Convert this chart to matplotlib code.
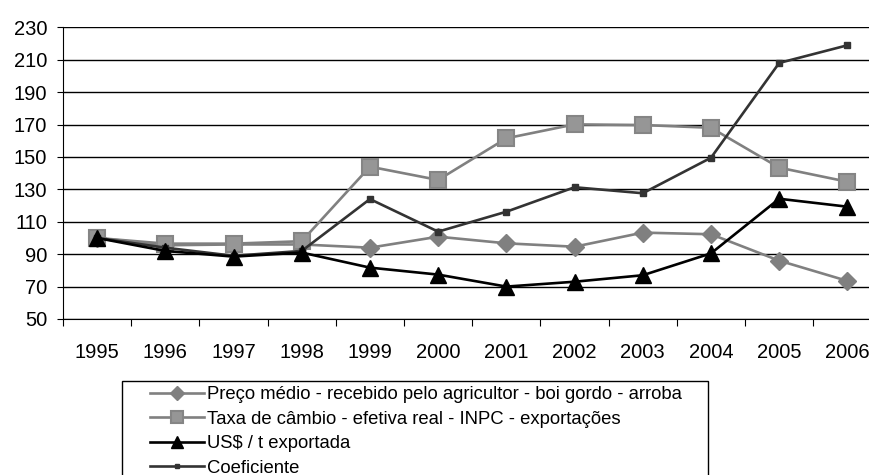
import matplotlib
matplotlib.use("Agg")
import matplotlib.pyplot as plt
from matplotlib.patches import Rectangle

plt.rcParams['font.family'] = ['Liberation Sans', 'DejaVu Sans']

anos = ['1995', '1996', '1997', '1998', '1999', '2000', '2001', '2002', '2003', '2004', '2005', '2006']
preco = [100, 95.5, 96, 96, 94, 100.8, 96.7, 94.6, 103.3, 102.3, 86, 73.5]
taxa = [100, 96.5, 96.5, 98, 144, 135.8, 161.5, 170.1, 169.7, 168, 143.4, 134.7]
usd = [100, 92, 88.5, 91, 81.7, 77.4, 70, 73, 77, 90.5, 124.2, 119.3]
coef = [100, 94, 89, 92, 124, 103.9, 116.2, 131.3, 127.6, 149.5, 208, 218.9]
yticks = list(range(50, 231, 20))

fig = plt.figure(figsize=(8.7, 4.75), dpi=100)
ax = fig.add_axes([63 / 870, 1 - 319 / 475, 818.5 / 870, (319 - 27.3) / 475])

x = range(len(anos))
l1, = ax.plot(x, preco, color='#808080', lw=1.9, marker='D', ms=9.5,
              mfc='#808080', mec='#808080', zorder=3)
l2, = ax.plot(x, taxa, color='#808080', lw=1.9, marker='s', ms=11.5,
              mfc='#969696', mec='#858585', mew=1.5, zorder=3)
l3, = ax.plot(x, usd, color='black', lw=1.9, marker='^', ms=11.5,
              mfc='black', mec='black', zorder=4)
l4, = ax.plot(x, coef, color='#333333', lw=1.9, marker='s', ms=4,
              mfc='#333333', mec='#333333', zorder=3)

ax.set_xlim(-0.5, len(anos) - 0.5)
ax.set_ylim(50, 230)
ax.set_yticks(yticks)
ax.set_yticklabels([str(v) for v in yticks], fontsize=14.5)
ax.yaxis.grid(True, color='black', lw=1)
ax.set_axisbelow(True)

ax.set_xticks([i + 0.5 for i in range(-1, len(anos))])
ax.set_xticklabels([])
ax.set_xticks(list(x), minor=True)
ax.set_xticklabels(anos, minor=True, fontsize=14.5)
ax.tick_params(axis='x', which='major', length=5, direction='out', color='black')
ax.tick_params(axis='x', which='minor', length=0, pad=17)
ax.tick_params(axis='y', length=4.3, direction='out', pad=7)

for s in ['top', 'right']:
    ax.spines[s].set_visible(False)
ax.spines['left'].set_color('black')
ax.spines['bottom'].set_color('black')

fig.patches.append(Rectangle((122 / 870, -0.1), (708 - 122) / 870, 0.1 + 1 - 381 / 475,
                             transform=fig.transFigure, fill=False,
                             edgecolor='black', lw=1))

fig.legend([l1, l2, l3, l4],
           ['Preço médio - recebido pelo agricultor - boi gordo - arroba',
            'Taxa de câmbio - efetiva real - INPC - exportações',
            'US$ / t exportada',
            'Coeficiente'],
           loc='upper left', bbox_to_anchor=(150 / 870, 1 - 386 / 475),
           frameon=False, fontsize=13.3, handlelength=2.9, handletextpad=0.2,
           labelspacing=0.41, borderpad=0, borderaxespad=0, markerscale=0.75)

fig.savefig('out.png', dpi=100)
